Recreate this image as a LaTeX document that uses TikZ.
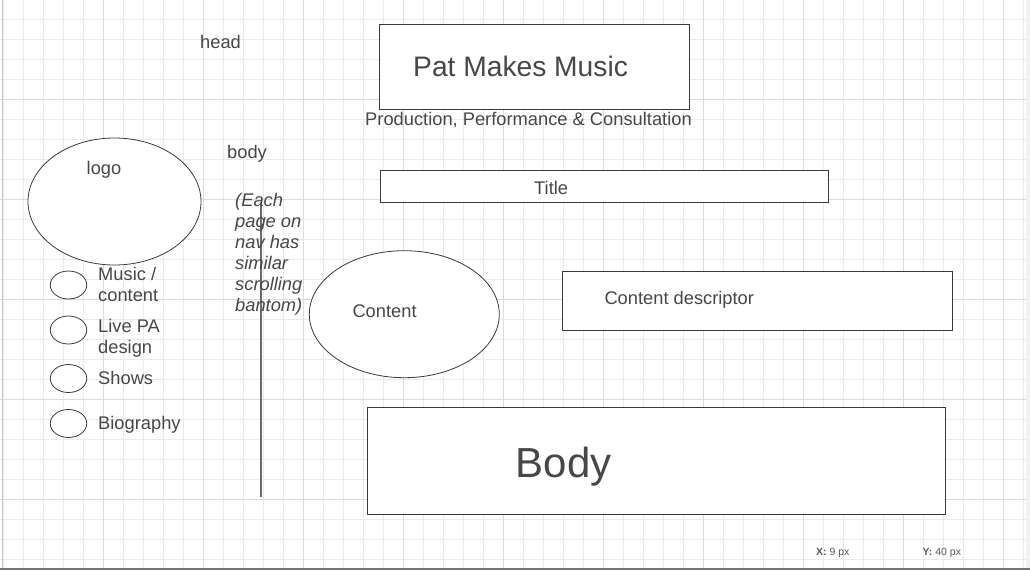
\documentclass[tikz,border=0pt]{standalone}
\usepackage{fontspec}
\setmainfont{Liberation Sans}
\usetikzlibrary{shapes.geometric}
\definecolor{ink}{HTML}{474747}
\definecolor{edge}{HTML}{3A3A3A}
\definecolor{gridminor}{HTML}{EBEBEB}
\definecolor{gridmajor}{HTML}{DCDCDC}
\tikzset{
  gridminorline/.style={draw=gridminor, line width=0.6pt},
  gridmajorline/.style={draw=gridmajor, line width=0.7pt},
  framebox/.style={draw=edge, line width=1pt, fill=white, rectangle, inner sep=0pt},
  oval/.style={draw=edge, line width=0.8pt, fill=white, ellipse, inner sep=0pt},
  lbl/.style={text=ink, inner sep=0pt, anchor=base west, font=\fontsize{18.3}{21}\selectfont},
  status/.style={text=ink!90, inner sep=0pt, anchor=base west, font=\fontsize{10.5}{12}\selectfont},
  notetext/.style={lbl, font=\fontsize{18.3}{21}\selectfont\itshape},
  navline/.style={draw=black!58, line width=2pt}
}
\begin{document}
\begin{tikzpicture}[x=1pt,y=-1pt]
\useasboundingbox (0,0) rectangle (1030,570);
\fill[white] (0,0) rectangle (1030,570);

% canvas grid: 20px cells, heavier every 100px
\foreach \gx in {3.3,23.3,...,1023.3} \draw[gridminorline] (\gx,0) -- (\gx,568);
\foreach \gy in {19.3,39.3,...,559.3} \draw[gridminorline] (0,\gy) -- (1030,\gy);
\foreach \gx in {103.3,203.3,...,1003.3} \draw[gridmajorline] (\gx,0) -- (\gx,568);
\foreach \gy in {99.3,199.3,...,499.3} \draw[gridmajorline] (0,\gy) -- (1030,\gy);
% canvas edges
\draw[draw=black!22, line width=1pt] (2.5,0) -- (2.5,568);
\fill[black!5] (1025.5,0) rectangle (1030,568);
\draw[draw=black!55, line width=2pt] (0,569) -- (1030,569);

% header block
\node[framebox, minimum width=310pt, minimum height=84.5pt] (header) at (534.5,66.75) {};
\node[lbl, font=\fontsize{28.2}{32}\selectfont] (sitename) at (413,76) {Pat Makes Music};
\node[lbl] (tagline) at (365,125) {Production, Performance \& Consultation};
\node[lbl] (headlbl) at (200,48.5) {head};
\node[lbl] (bodylbl) at (227,158.5) {body};

% logo and navigation
\node[oval, minimum width=173pt, minimum height=127pt] (logo) at (114.5,201.5) {};
\node[lbl] (logolbl) at (86.5,174) {logo};
\node[oval, minimum width=36.5pt, minimum height=28pt] (nav1) at (68.5,285) {};
\node[oval, minimum width=36.5pt, minimum height=28pt] (nav2) at (68.5,330) {};
\node[oval, minimum width=36.5pt, minimum height=28pt] (nav3) at (68.5,378.5) {};
\node[oval, minimum width=36.5pt, minimum height=28pt] (nav4) at (68.5,423.5) {};
\node[lbl] (nav1a) at (98,280.5) {Music /};
\node[lbl] (nav1b) at (98,301.5) {content};
\node[lbl] (nav2a) at (98,332.5) {Live PA};
\node[lbl] (nav2b) at (98,353.5) {design};
\node[lbl] (nav3a) at (98,384) {Shows};
\node[lbl] (nav4a) at (98,429) {Biography};

% scrolling divider and note
\coordinate (divtop) at (261,203);
\coordinate (divbot) at (261,497);
\draw[navline] (divtop) -- (divbot);
\node[notetext] (note1) at (235,206.5) {(Each};
\node[notetext] (note2) at (235,227.5) {page on};
\node[notetext] (note3) at (235,248.5) {nav has};
\node[notetext] (note4) at (235,269.5) {similar};
\node[notetext] (note5) at (235,290.5) {scrolling};
\node[notetext] (note6) at (235,311.5) {bantom)};

% page body
\node[framebox, minimum width=448.5pt, minimum height=32pt] (titlebox) at (604.25,186) {};
\node[lbl] (titlelbl) at (534,194) {Title};
\node[oval, minimum width=190pt, minimum height=127pt] (content) at (404.3,314.2) {};
\node[lbl] (contentlbl) at (352.3,317.3) {Content};
\node[framebox, minimum width=390pt, minimum height=58.5pt] (descbox) at (757.3,301) {};
\node[lbl] (desclbl) at (604.3,304.3) {Content descriptor};
\node[framebox, minimum width=578pt, minimum height=107pt] (bodybox) at (656.5,460.75) {};
\node[lbl, font=\fontsize{42}{48}\selectfont] (bodytext) at (515.5,477.5) {Body};

% cursor readout
\node[status] (xpos) at (816,555.5) {\textbf{X:} 9 px};
\node[status] (ypos) at (922.5,555.5) {\textbf{Y:} 40 px};
\end{tikzpicture}
\end{document}
